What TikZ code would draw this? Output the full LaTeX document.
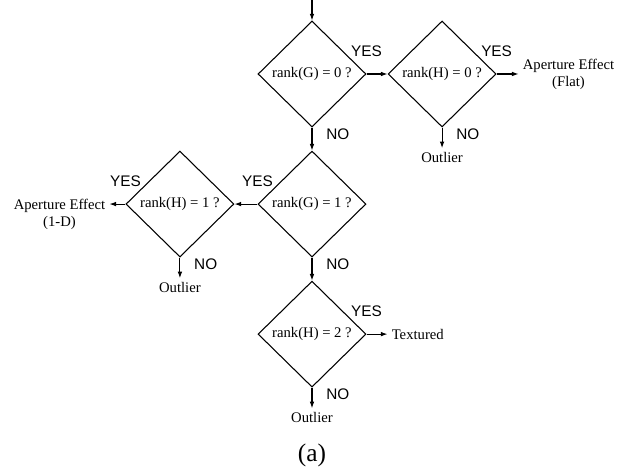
\documentclass[tikz,border=0pt]{standalone}
\usepackage{fontspec}
\setmainfont{Liberation Serif}
\setsansfont{Liberation Sans}
\usetikzlibrary{shapes.geometric}
\usetikzlibrary{positioning}
\usetikzlibrary{arrows.meta}
\usetikzlibrary{calc}

\begin{document}
\begin{tikzpicture}[test/.style={draw, diamond, line width=0.8pt, inner sep=0pt, minimum width=81pt, minimum height=79.5pt, font=\fontsize{11}{13}\selectfont},
				result/.style={inner sep=3pt, align=center, font=\fontsize{11}{12.8}\selectfont},
				answer/.style={inner sep=3pt, font=\sffamily\fontsize{11.5}{13}\selectfont},
				flow/.style={-{Latex[length=5pt,width=3.5pt]}, line width=0.8pt}]
				\useasboundingbox (-234pt,55.5pt) rectangle (237.75pt,-299.25pt);
				\coordinate (start) at (0,55.5pt);
				\node[test](rankG0) at (0, 0) {rank(G) = 0 ?};
				\node[test, right=15.75pt of rankG0](rankH0) {rank(H) = 0 ?};
				\node[test, below=17.25pt of rankG0](rankG1) {rank(G) = 1 ?};
				\node[test, left=17.25pt of rankG1](rankH1) {rank(H) = 1 ?};
				\node[test, below=17.25pt of rankG1](rankH2) {rank(H) = 2 ?};
				
				\node[result, right=16.5pt of rankH0](flat) {Aperture Effect\\(Flat)};
				\node[result, anchor=north east](oned) at ($(rankH1.west)+(-12pt,6.9pt)$) {Aperture Effect\\(1-D)};
				\node[result, right=15.75pt of rankH2](textured) {Textured};
				\node[result, below=15.5pt of rankH0](out1) {Outlier};
				\node[result, below=15.5pt of rankH1](out2) {Outlier};
				\node[result, below=15.5pt of rankH2](out3) {Outlier};
				\node[below=9pt of out3, font=\fontsize{19}{22}\selectfont](caption) {(a)};
				
				% YES / NO labels
				\node[answer, above=10pt of rankG0.east](yes1) {YES};
				\node[answer, above=10pt of rankH0.east](yes2) {YES};
				\node[answer, above=10pt of rankG1.west](yes3) {YES};
				\node[answer, above=10pt of rankH1.west](yes4) {YES};
				\node[answer, above=10pt of rankH2.east](yes5) {YES};
				\node[answer, below right=-2pt and 7.5pt of rankG0.south](no1) {NO};
				\node[answer, below right=-2pt and 7.5pt of rankH0.south](no2) {NO};
				\node[answer, below right=-2pt and 7.5pt of rankG1.south](no3) {NO};
				\node[answer, below right=-2pt and 7.5pt of rankH1.south](no4) {NO};
				\node[answer, below right=-2pt and 7.5pt of rankH2.south](no5) {NO};
				
				\draw [flow] (start) -- (rankG0.north);
				\draw [flow] (rankG0.east) -- (rankH0.west);
				\draw [flow] (rankH0.east) -- (flat.west);
				\draw [flow] (rankH0.south) -- (out1.north);
				\draw [flow] (rankG0.south) -- (rankG1.north);
				\draw [flow] (rankG1.west) -- (rankH1.east);
				\draw [flow] (rankH1.west) -- (rankH1.west -| oned.east);
				\draw [flow] (rankH1.south) -- (out2.north);
				\draw [flow] (rankG1.south) -- (rankH2.north);
				\draw [flow] (rankH2.east) -- (textured.west);
				\draw [flow] (rankH2.south) -- (out3.north);
			\end{tikzpicture}
\end{document}
